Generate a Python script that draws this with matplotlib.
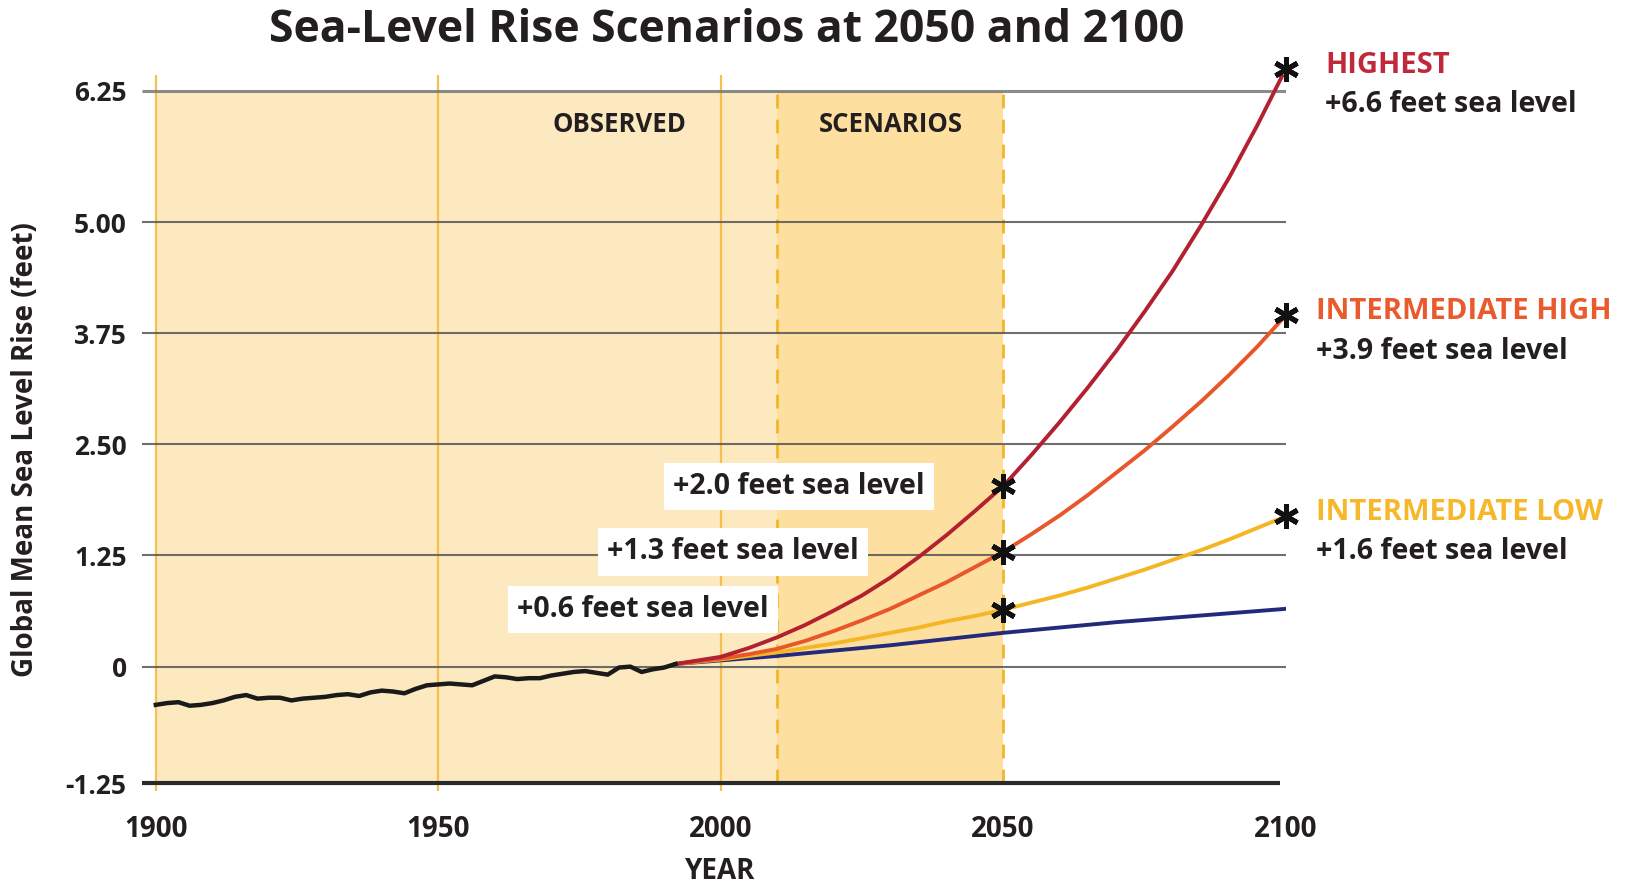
import matplotlib
matplotlib.use('Agg')
import matplotlib.pyplot as plt

plt.rcParams['font.family'] = ['Open Sans', 'DejaVu Sans']
plt.rcParams['font.weight'] = 'bold'

# observed global mean sea level (feet)
obs_years = list(range(1900, 1993, 2))
obs_vals = [-0.43, -0.41, -0.40, -0.44, -0.43, -0.41, -0.38, -0.34, -0.32, -0.36,
            -0.35, -0.35, -0.38, -0.36, -0.35, -0.34, -0.32, -0.31, -0.33, -0.29,
            -0.27, -0.28, -0.30, -0.25, -0.21, -0.20, -0.19, -0.20, -0.21, -0.16,
            -0.11, -0.12, -0.14, -0.13, -0.13, -0.10, -0.08, -0.06, -0.05, -0.07,
            -0.09, -0.01, 0.00, -0.06, -0.03, -0.01, 0.03]

# scenarios (feet)
proj_years = [1992] + list(range(2000, 2101, 5))
low = [0.03, 0.07, 0.095, 0.12, 0.15, 0.18, 0.21, 0.24, 0.275, 0.31, 0.345, 0.38,
       0.41, 0.44, 0.47, 0.50, 0.525, 0.55, 0.575, 0.60, 0.625, 0.65]
int_low = [0.03, 0.08, 0.12, 0.16, 0.21, 0.26, 0.32, 0.38, 0.44, 0.51, 0.57, 0.64,
           0.72, 0.80, 0.89, 0.99, 1.09, 1.20, 1.31, 1.43, 1.56, 1.69]
int_high = [0.03, 0.09, 0.14, 0.20, 0.29, 0.40, 0.52, 0.65, 0.80, 0.95, 1.12, 1.29,
            1.49, 1.70, 1.93, 2.18, 2.43, 2.70, 2.98, 3.28, 3.60, 3.95]
highest = [0.03, 0.11, 0.21, 0.33, 0.47, 0.63, 0.80, 1.00, 1.23, 1.48, 1.75, 2.03,
           2.38, 2.75, 3.14, 3.55, 3.99, 4.45, 4.96, 5.50, 6.09, 6.72]

scen_names = ['HIGHEST', 'INTERMEDIATE HIGH', 'INTERMEDIATE LOW']
scen_2100 = ['+6.6 feet sea level', '+3.9 feet sea level', '+1.6 feet sea level']
scen_2050 = ['+2.0 feet sea level', '+1.3 feet sea level', '+0.6 feet sea level']

# gridlines as drawn (the top one sits a bit above 6.25 in the original)
grid_pos = [-1.31, 0, 1.25, 2.5, 3.75, 5.0, 6.48]
grid_labels = ['-1.25', '0', '1.25', '2.50', '3.75', '5.00', '6.25']
xticks = [1900, 1950, 2000, 2050, 2100]

dark = '#231f20'
c_red = '#b3202f'
c_orange = '#e8562a'
c_yellow = '#f5b623'
c_blue = '#232a7c'
lab_red = '#c0293b'
lab_orange = '#e95a2c'
lab_yellow = '#f6b82a'

fig = plt.figure(figsize=(16.36, 8.83), dpi=100)
ax = fig.add_axes([0.08661, 0.10408, 0.69921, 0.81053])
ax.set_xlim(1897.5, 2100)
ax.set_ylim(-1.40, 6.65)
for s in ax.spines.values():
    s.set_visible(False)

# background shading
ax.fill_between([1900, 2010], -1.31, 6.48, color='#fce9bf', lw=0, zorder=0)
ax.fill_between([2010, 2050], -1.31, 6.48, color='#fddf9f', lw=0, zorder=0)
for x in [1900, 1950, 2000]:
    ax.axvline(x, color='#f6c04c', lw=1.6, zorder=1)
ax.vlines([2010, 2050], -1.31, 6.48, color='#f3b62a', lw=2, linestyles=(0, (5, 4)), zorder=1)

# gridlines
ax.hlines(grid_pos[1:-1], 1897.5, 2100, color='#555555', lw=1.5, alpha=0.85, zorder=2)
ax.hlines(grid_pos[-1], 1897.5, 2102, color='#777777', lw=2.2, alpha=0.85, zorder=2)
ax.hlines(grid_pos[0], 1897.5, 2099, color='#2a2a2a', lw=3, zorder=2)

# lines
ax.plot(obs_years, obs_vals, color='#1a1a1a', lw=3.2, zorder=4)
ax.plot(proj_years, low, color=c_blue, lw=2.8, zorder=3)
ax.plot(proj_years, int_low, color=c_yellow, lw=2.8, zorder=3)
ax.plot(proj_years, int_high, color=c_orange, lw=2.8, zorder=3)
ax.plot(proj_years, highest, color=c_red, lw=2.8, zorder=3)

# asterisks at 2050 and 2100
i50 = proj_years.index(2050)
for series in [highest, int_high, int_low]:
    ax.plot([2050, 2100], [series[i50], series[-1]], ls='none', marker=(6, 2, 0),
            ms=18, mew=3.6, color='#111111', zorder=5, clip_on=False)

# right labels
lab_cols = [lab_red, lab_orange, lab_yellow]
lab_x = [2107.0, 2105.3, 2105.3]
for name, txt, series, col, lx in zip(scen_names, scen_2100, [highest, int_high, int_low], lab_cols, lab_x):
    y = series[-1]
    ax.text(lx, y + 0.04, name, color=col, fontsize=21, ha='left', va='center', clip_on=False)
    ax.text(lx, y - 0.40, txt, color=dark, fontsize=20.5, ha='left', va='center', clip_on=False)

# 2050 boxed labels
box_x = [2013.9, 2002.1, 1986.2]
for txt, series, bx in zip(scen_2050, [highest, int_high, int_low], box_x):
    ax.text(bx, series[i50], txt, color=dark, fontsize=20.5, ha='center', va='center', zorder=6,
            bbox=dict(boxstyle='square,pad=0.32', fc='white', ec='none'))

ax.text(1982.1, 6.10, 'OBSERVED', color=dark, fontsize=18.5, ha='center', va='center')
ax.text(2030.2, 6.10, 'SCENARIOS', color=dark, fontsize=18.5, ha='center', va='center')

ax.set_yticks(grid_pos, grid_labels)
ax.set_xticks(xticks, [str(x) for x in xticks])
ax.tick_params(axis='both', length=0, colors=dark)
ax.tick_params(axis='y', pad=10.8, labelsize=19)
ax.tick_params(axis='x', pad=17, labelsize=20)

ax.set_xlabel('YEAR', fontsize=20, color=dark, fontweight='bold')
ax.xaxis.set_label_coords(0.5056, -0.092)
ax.set_ylabel('Global Mean Sea Level Rise (feet)', fontsize=20, color=dark, fontweight='bold')
ax.yaxis.set_label_coords(-0.089, 0.4766)

fig.text(726.5 / 1636, 1 - 31 / 883, 'Sea-Level Rise Scenarios at 2050 and 2100',
         fontsize=32, color=dark, ha='center', va='center')

fig.savefig('out.png', dpi=100)
